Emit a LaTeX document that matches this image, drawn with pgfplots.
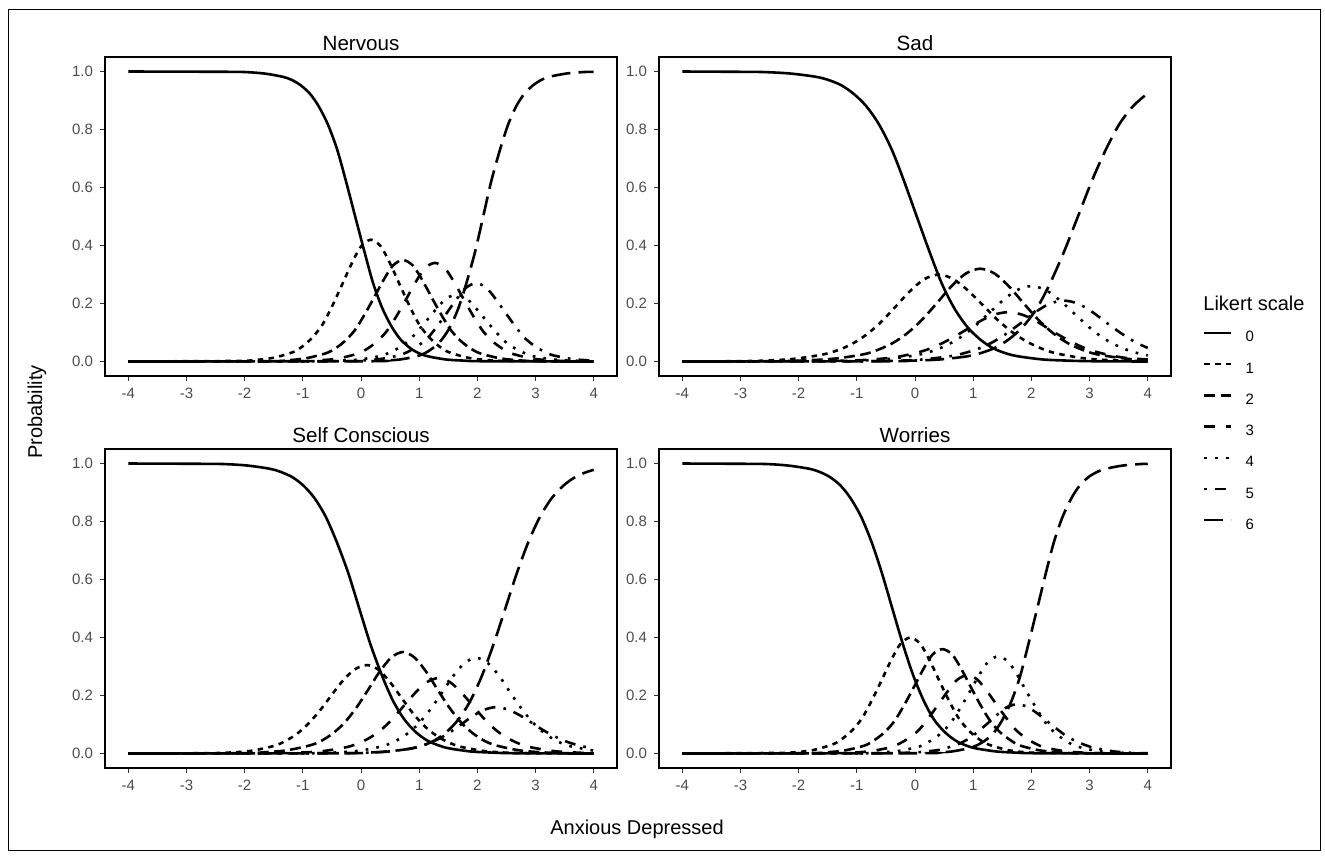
\documentclass[border=0pt]{standalone}
\usepackage{fontspec}
\setmainfont{Liberation Sans}
\usepackage{pgfplots}
\pgfplotsset{compat=1.18}

% ggplot linetypes: solid, 22, 42, 44, 13, 1343, 73 (unit = line width)
\tikzset{
  lt0/.style={solid},
  lt1/.style={dash pattern=on 2.7pt off 2.7pt},
  lt2/.style={dash pattern=on 5.4pt off 2.7pt},
  lt3/.style={dash pattern=on 5.4pt off 5.4pt},
  lt4/.style={dash pattern=on 1.35pt off 4.05pt},
  lt5/.style={dash pattern=on 1.35pt off 4.05pt on 5.4pt off 4.05pt},
  lt6/.style={dash pattern=on 9.45pt off 4.05pt},
  ptitle/.style={font=\fontsize{10.3}{12}\selectfont, anchor=base},
}
\pgfplotsset{
  panel/.style={
    scale only axis, width=256pt, height=159.5pt,
    anchor=north west,
    xmin=-4.4, xmax=4.4, ymin=-0.05, ymax=1.05,
    xtick={-4,-3,-2,-1,0,1,2,3,4}, xticklabels={-4,-3,-2,-1,0,1,2,3,4},
    ytick={0,0.2,0.4,0.6,0.8,1}, yticklabels={0.0,0.2,0.4,0.6,0.8,1.0},
    tick align=outside, tick pos=left, major tick length=2.5pt,
    every tick/.style={black!80, line width=0.5pt},
    axis line style={line width=0.65pt, black},
    ticklabel style={font=\fontsize{7.5}{9}\selectfont, text=black!70},
    every axis plot/.append style={black, line width=1.3pt, smooth, no markers},
  },
}

\begin{document}
\begin{tikzpicture}
\path[use as bounding box] (0pt,0pt) rectangle (662.5pt,-429.5pt);
\draw[line width=0.5pt] (4pt,-4.5pt) rectangle (660pt,-425pt);

% ---------------- Nervous ----------------
\begin{axis}[panel, at={(52.5pt,-28.5pt)}, name=a1]
\addplot[lt0] coordinates {(-4,1) (-2.29,0.999) (-1.98,0.998) (-1.66,0.993) (-1.35,0.982) (-1.19,0.971) (-1.04,0.953) (-0.88,0.924) (-0.73,0.881) (-0.57,0.818) (-0.41,0.731) (-0.26,0.623) (-0.10,0.5) (0.06,0.378) (0.21,0.269) (0.37,0.182) (0.53,0.119) (0.68,0.076) (0.84,0.047) (0.99,0.029) (1.15,0.018) (1.46,0.007) (1.78,0.003) (2.09,0.001) (4,0)};
\addplot[lt1] coordinates {(-4,0) (-2.16,0.002) (-1.83,0.005) (-1.50,0.013) (-1.16,0.033) (-1.00,0.053) (-0.83,0.084) (-0.66,0.128) (-0.50,0.189) (-0.33,0.263) (-0.16,0.338) (0.00,0.397) (0.17,0.42) (0.34,0.397) (0.50,0.338) (0.67,0.263) (0.84,0.189) (1.00,0.128) (1.17,0.084) (1.34,0.053) (1.50,0.033) (1.84,0.013) (2.17,0.005) (2.50,0.002) (4,0)};
\addplot[lt2] coordinates {(-4,0) (-1.61,0.001) (-1.28,0.004) (-0.95,0.011) (-0.61,0.028) (-0.45,0.044) (-0.28,0.070) (-0.11,0.107) (0.05,0.158) (0.22,0.219) (0.39,0.282) (0.55,0.331) (0.72,0.35) (0.89,0.331) (1.05,0.282) (1.22,0.219) (1.39,0.158) (1.55,0.107) (1.72,0.070) (1.89,0.044) (2.05,0.028) (2.39,0.011) (2.72,0.004) (3.05,0.001) (4,0)};
\addplot[lt3] coordinates {(-4,0) (-1.06,0.001) (-0.73,0.004) (-0.40,0.010) (-0.06,0.027) (0.10,0.043) (0.27,0.068) (0.44,0.104) (0.60,0.153) (0.77,0.213) (0.94,0.274) (1.10,0.322) (1.27,0.34) (1.44,0.322) (1.60,0.274) (1.77,0.213) (1.94,0.153) (2.10,0.104) (2.27,0.068) (2.44,0.043) (2.60,0.027) (2.94,0.010) (3.27,0.004) (3.60,0.001) (4,0)};
\addplot[lt4] coordinates {(-4,0) (-0.69,0.001) (-0.36,0.003) (-0.03,0.007) (0.31,0.018) (0.47,0.029) (0.64,0.046) (0.81,0.070) (0.97,0.104) (1.14,0.144) (1.31,0.185) (1.47,0.218) (1.64,0.23) (1.81,0.218) (1.97,0.185) (2.14,0.144) (2.31,0.104) (2.47,0.070) (2.64,0.046) (2.81,0.029) (2.97,0.018) (3.31,0.007) (3.64,0.003) (4,0.001)};
\addplot[lt5] coordinates {(-4,0) (-0.35,0.001) (-0.02,0.003) (0.31,0.008) (0.65,0.021) (0.81,0.034) (0.98,0.054) (1.15,0.082) (1.31,0.122) (1.48,0.169) (1.65,0.217) (1.81,0.255) (1.98,0.27) (2.15,0.255) (2.31,0.217) (2.48,0.169) (2.65,0.122) (2.81,0.082) (2.98,0.054) (3.15,0.034) (3.31,0.021) (3.65,0.008) (4,0.003)};
\addplot[lt6] coordinates {(-4,0) (0.10,0.001) (0.39,0.003) (0.67,0.007) (0.96,0.018) (1.10,0.029) (1.24,0.047) (1.39,0.076) (1.53,0.119) (1.67,0.182) (1.81,0.269) (1.96,0.378) (2.10,0.5) (2.24,0.623) (2.39,0.731) (2.53,0.818) (2.67,0.881) (2.81,0.924) (2.96,0.953) (3.10,0.971) (3.24,0.982) (3.53,0.993) (3.81,0.998) (4,0.999)};
\end{axis}
\node[ptitle] at ([yshift=3.5pt]a1.north) {Nervous};

% ---------------- Sad ----------------
\begin{axis}[panel, at={(329.5pt,-28.5pt)}, name=a2,
  legend style={at={(1.0625,0.1395)}, anchor=north west, draw=none, fill=none,
    inner sep=0pt, outer sep=0pt, row sep=8.9pt, column sep=6.5pt,
    font=\fontsize{7.5}{9}\selectfont, nodes={inner sep=0pt}},
  legend cell align=left,
  legend image code/.code={\draw[#1] (0pt,2.7pt) -- (13.5pt,2.7pt);}]
\addplot[lt0] coordinates {(-4,1) (-3.01,0.999) (-2.58,0.998) (-2.14,0.993) (-1.71,0.982) (-1.49,0.971) (-1.27,0.953) (-1.06,0.924) (-0.84,0.881) (-0.62,0.818) (-0.40,0.731) (-0.19,0.623) (0.03,0.5) (0.25,0.378) (0.46,0.269) (0.68,0.182) (0.90,0.119) (1.12,0.076) (1.33,0.047) (1.55,0.029) (1.77,0.018) (2.20,0.007) (2.64,0.003) (3.07,0.001) (4,0)};
\addlegendentry{0}
\addplot[lt1] coordinates {(-4,0) (-3.09,0.001) (-2.59,0.003) (-2.09,0.009) (-1.59,0.024) (-1.34,0.038) (-1.09,0.060) (-0.84,0.092) (-0.59,0.135) (-0.34,0.188) (-0.09,0.242) (0.16,0.284) (0.41,0.30) (0.66,0.284) (0.91,0.245) (1.16,0.196) (1.41,0.145) (1.66,0.103) (1.91,0.070) (2.16,0.046) (2.41,0.029) (2.91,0.011) (3.41,0.004) (4,0.001)};
\addlegendentry{1}
\addplot[lt2] coordinates {(-4,0) (-2.38,0.001) (-1.88,0.004) (-1.38,0.010) (-0.88,0.025) (-0.63,0.041) (-0.38,0.064) (-0.13,0.098) (0.12,0.144) (0.37,0.200) (0.62,0.258) (0.87,0.303) (1.12,0.32) (1.37,0.303) (1.62,0.258) (1.87,0.200) (2.12,0.144) (2.37,0.098) (2.62,0.064) (2.87,0.041) (3.12,0.025) (3.62,0.010) (4,0.005)};
\addlegendentry{2}
\addplot[lt3] coordinates {(-4,0) (-1.90,0.001) (-1.40,0.002) (-0.90,0.005) (-0.40,0.013) (-0.15,0.022) (0.10,0.034) (0.35,0.052) (0.60,0.077) (0.85,0.106) (1.10,0.137) (1.35,0.161) (1.60,0.17) (1.85,0.161) (2.10,0.137) (2.35,0.106) (2.60,0.077) (2.85,0.052) (3.10,0.034) (3.35,0.022) (3.60,0.013) (4,0.007)};
\addlegendentry{3}
\addplot[lt4] coordinates {(-4,0) (-1.50,0.001) (-1.00,0.003) (-0.50,0.008) (0.00,0.021) (0.25,0.033) (0.50,0.052) (0.75,0.079) (1.00,0.117) (1.25,0.163) (1.50,0.209) (1.75,0.246) (2.00,0.26) (2.25,0.246) (2.50,0.209) (2.75,0.163) (3.00,0.117) (3.25,0.079) (3.50,0.052) (3.75,0.033) (4,0.021)};
\addlegendentry{4}
\addplot[lt5] coordinates {(-4,0) (-0.94,0.001) (-0.44,0.002) (0.06,0.006) (0.56,0.017) (0.81,0.027) (1.06,0.042) (1.31,0.064) (1.56,0.095) (1.81,0.131) (2.06,0.169) (2.31,0.199) (2.56,0.21) (2.81,0.199) (3.06,0.169) (3.31,0.131) (3.56,0.095) (3.81,0.064) (4,0.047)};
\addlegendentry{5}
\addplot[lt6] coordinates {(-4,0) (-0.53,0.001) (-0.06,0.003) (0.42,0.007) (0.90,0.018) (1.13,0.029) (1.37,0.047) (1.61,0.076) (1.85,0.119) (2.09,0.182) (2.32,0.269) (2.56,0.378) (2.80,0.5) (3.04,0.623) (3.28,0.731) (3.51,0.818) (3.75,0.881) (4,0.925)};
\addlegendentry{6}
\end{axis}
\node[ptitle] at ([yshift=3.5pt]a2.north) {Sad};

% ---------------- Self Conscious ----------------
\begin{axis}[panel, at={(52.5pt,-224.5pt)}, name=a3]
\addplot[lt0] coordinates {(-4,1) (-2.72,0.999) (-2.34,0.998) (-1.95,0.993) (-1.57,0.982) (-1.38,0.971) (-1.18,0.953) (-0.99,0.924) (-0.80,0.881) (-0.61,0.818) (-0.42,0.731) (-0.22,0.623) (-0.03,0.5) (0.16,0.378) (0.36,0.269) (0.55,0.182) (0.74,0.119) (0.93,0.076) (1.12,0.047) (1.32,0.029) (1.51,0.018) (1.89,0.007) (2.28,0.003) (2.66,0.001) (4,0)};
\addplot[lt1] coordinates {(-4,0) (-2.70,0.001) (-2.30,0.003) (-1.90,0.009) (-1.50,0.026) (-1.30,0.043) (-1.10,0.068) (-0.90,0.104) (-0.70,0.150) (-0.50,0.203) (-0.30,0.254) (-0.10,0.291) (0.10,0.305) (0.30,0.289) (0.50,0.246) (0.70,0.191) (0.90,0.137) (1.10,0.093) (1.30,0.061) (1.50,0.039) (1.70,0.024) (2.10,0.009) (2.50,0.003) (2.90,0.001) (4,0)};
\addplot[lt2] coordinates {(-4,0) (-2.08,0.001) (-1.68,0.004) (-1.28,0.011) (-0.88,0.028) (-0.68,0.044) (-0.48,0.070) (-0.28,0.107) (-0.08,0.158) (0.12,0.219) (0.32,0.282) (0.52,0.331) (0.72,0.35) (0.92,0.331) (1.12,0.282) (1.32,0.219) (1.52,0.158) (1.72,0.107) (1.92,0.070) (2.12,0.044) (2.32,0.028) (2.72,0.011) (3.12,0.004) (3.52,0.001) (4,0)};
\addplot[lt3] coordinates {(-4,0) (-1.47,0.001) (-1.07,0.003) (-0.67,0.008) (-0.27,0.021) (-0.07,0.033) (0.13,0.052) (0.33,0.079) (0.53,0.117) (0.73,0.163) (0.93,0.209) (1.13,0.246) (1.33,0.26) (1.53,0.246) (1.73,0.209) (1.93,0.163) (2.13,0.117) (2.33,0.079) (2.53,0.052) (2.73,0.033) (2.93,0.021) (3.33,0.008) (3.73,0.003) (4,0.001)};
\addplot[lt4] coordinates {(-4,0) (-0.82,0.001) (-0.42,0.004) (-0.02,0.010) (0.38,0.026) (0.58,0.042) (0.78,0.066) (0.98,0.101) (1.18,0.149) (1.38,0.206) (1.58,0.266) (1.78,0.312) (1.98,0.33) (2.18,0.312) (2.38,0.266) (2.58,0.206) (2.78,0.149) (2.98,0.101) (3.18,0.066) (3.38,0.042) (3.58,0.026) (4,0.010)};
\addplot[lt5] coordinates {(-4,0) (-0.48,0.001) (-0.08,0.002) (0.32,0.005) (0.72,0.013) (0.92,0.020) (1.12,0.032) (1.32,0.049) (1.52,0.072) (1.72,0.100) (1.92,0.129) (2.12,0.151) (2.32,0.16) (2.52,0.152) (2.72,0.133) (2.92,0.108) (3.12,0.082) (3.32,0.060) (3.52,0.042) (3.72,0.029) (3.92,0.020) (4,0.017)};
\addplot[lt6] coordinates {(-4,0) (-0.32,0.001) (0.08,0.003) (0.48,0.007) (0.88,0.018) (1.08,0.029) (1.28,0.047) (1.48,0.076) (1.68,0.119) (1.88,0.182) (2.08,0.269) (2.28,0.378) (2.48,0.5) (2.68,0.623) (2.88,0.731) (3.08,0.818) (3.28,0.881) (3.48,0.924) (3.68,0.953) (3.88,0.971) (4,0.978)};
\end{axis}
\node[ptitle] at ([yshift=3.5pt]a3.north) {Self Conscious};

% ---------------- Worries ----------------
\begin{axis}[panel, at={(329.5pt,-224.5pt)}, name=a4]
\addplot[lt0] coordinates {(-4,1) (-2.89,0.999) (-2.53,0.998) (-2.18,0.993) (-1.82,0.982) (-1.64,0.971) (-1.46,0.953) (-1.28,0.924) (-1.11,0.881) (-0.93,0.818) (-0.75,0.731) (-0.57,0.623) (-0.39,0.5) (-0.21,0.378) (-0.03,0.269) (0.15,0.182) (0.32,0.119) (0.50,0.076) (0.68,0.047) (0.86,0.029) (1.04,0.018) (1.40,0.007) (1.75,0.003) (2.11,0.001) (4,0)};
\addplot[lt1] coordinates {(-4,0) (-2.41,0.002) (-2.08,0.004) (-1.75,0.012) (-1.41,0.032) (-1.25,0.051) (-1.08,0.080) (-0.91,0.122) (-0.75,0.180) (-0.58,0.250) (-0.41,0.322) (-0.25,0.378) (-0.08,0.40) (0.09,0.378) (0.25,0.322) (0.42,0.250) (0.59,0.180) (0.75,0.122) (0.92,0.080) (1.09,0.051) (1.25,0.032) (1.59,0.012) (1.92,0.004) (2.25,0.002) (4,0)};
\addplot[lt2] coordinates {(-4,0) (-1.86,0.001) (-1.53,0.004) (-1.20,0.011) (-0.86,0.028) (-0.70,0.046) (-0.53,0.072) (-0.36,0.110) (-0.20,0.162) (-0.03,0.225) (0.14,0.290) (0.30,0.341) (0.47,0.36) (0.64,0.341) (0.80,0.290) (0.97,0.225) (1.14,0.162) (1.30,0.110) (1.47,0.072) (1.64,0.046) (1.80,0.028) (2.14,0.011) (2.47,0.004) (2.80,0.001) (4,0)};
\addplot[lt3] coordinates {(-4,0) (-1.43,0.001) (-1.10,0.003) (-0.77,0.008) (-0.43,0.021) (-0.27,0.034) (-0.10,0.054) (0.07,0.082) (0.23,0.122) (0.40,0.169) (0.57,0.217) (0.73,0.255) (0.90,0.27) (1.07,0.255) (1.23,0.217) (1.40,0.169) (1.57,0.122) (1.73,0.082) (1.90,0.054) (2.07,0.034) (2.23,0.021) (2.57,0.008) (2.90,0.003) (3.23,0.001) (4,0)};
\addplot[lt4] coordinates {(-4,0) (-0.90,0.001) (-0.57,0.004) (-0.24,0.010) (0.10,0.026) (0.26,0.043) (0.43,0.067) (0.60,0.102) (0.76,0.151) (0.93,0.209) (1.10,0.270) (1.26,0.317) (1.43,0.335) (1.60,0.317) (1.76,0.270) (1.93,0.209) (2.10,0.151) (2.26,0.102) (2.43,0.067) (2.60,0.043) (2.76,0.026) (3.10,0.010) (3.43,0.004) (3.76,0.001) (4,0)};
\addplot[lt5] coordinates {(-4,0) (-0.57,0.001) (-0.24,0.002) (0.09,0.005) (0.43,0.013) (0.59,0.022) (0.76,0.034) (0.93,0.052) (1.09,0.077) (1.26,0.106) (1.43,0.137) (1.59,0.161) (1.76,0.17) (1.93,0.161) (2.09,0.140) (2.26,0.113) (2.43,0.086) (2.59,0.062) (2.76,0.043) (2.93,0.029) (3.09,0.019) (3.43,0.007) (3.76,0.002) (4,0.001)};
\addplot[lt6] coordinates {(-4,0) (0.04,0.001) (0.34,0.003) (0.63,0.007) (0.92,0.018) (1.07,0.029) (1.22,0.047) (1.37,0.076) (1.51,0.119) (1.66,0.182) (1.81,0.269) (1.95,0.378) (2.10,0.5) (2.25,0.623) (2.39,0.731) (2.54,0.818) (2.69,0.881) (2.83,0.924) (2.98,0.953) (3.13,0.971) (3.28,0.982) (3.57,0.993) (3.86,0.998) (4,0.999)};
\end{axis}
\node[ptitle] at ([yshift=3.5pt]a4.north) {Worries};

% shared labels
\node[rotate=90, font=\fontsize{10}{12}\selectfont] at (18.5pt,-206pt) {Probability};
\node[font=\fontsize{10}{12}\selectfont] at (318.5pt,-414.5pt) {Anxious Depressed};
\node[anchor=west, inner sep=0pt, font=\fontsize{10}{12}\selectfont] at (601.5pt,-151.5pt) {Likert scale};
\end{tikzpicture}
\end{document}
